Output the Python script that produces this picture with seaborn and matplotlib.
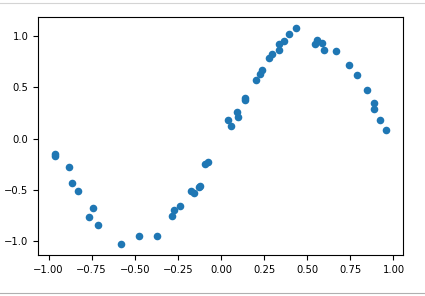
import matplotlib
matplotlib.use("Agg")
import matplotlib.pyplot as plt
from matplotlib.lines import Line2D
import seaborn as sns
import pandas as pd

x_vals = [-0.965, -0.962, -0.880, -0.863, -0.830, -0.743, -0.768, -0.716, -0.579, -0.474,
          -0.371, -0.282, -0.274, -0.236, -0.174, -0.155, -0.130, -0.120, -0.091, -0.078,
          0.040, 0.060, 0.093, 0.098, 0.137, 0.139, 0.203, 0.226, 0.237, 0.280,
          0.295, 0.334, 0.339, 0.363, 0.395, 0.434, 0.546, 0.559, 0.585, 0.598,
          0.668, 0.743, 0.787, 0.849, 0.889, 0.889, 0.924, 0.959]
y_vals = [-0.170, -0.150, -0.276, -0.431, -0.509, -0.677, -0.761, -0.839, -1.029, -0.946,
          -0.946, -0.754, -0.696, -0.657, -0.509, -0.528, -0.470, -0.460, -0.250, -0.230,
          0.178, 0.119, 0.258, 0.210, 0.398, 0.379, 0.573, 0.631, 0.670, 0.786,
          0.825, 0.922, 0.864, 0.954, 1.019, 1.078, 0.922, 0.961, 0.935, 0.864,
          0.851, 0.715, 0.621, 0.469, 0.346, 0.287, 0.184, 0.087]

df = pd.DataFrame({"x": x_vals, "y": y_vals})

fig = plt.figure(figsize=(4.25, 2.96), dpi=100)
ax = fig.add_axes([38/425, 1-255/296, (403-38)/425, (255-17)/296])
sns.scatterplot(data=df, x="x", y="y", ax=ax, color="#1f77b4", s=30, linewidth=0, alpha=1)
ax.set_xlabel("")
ax.set_ylabel("")
ax.set_xticks([-1.0, -0.75, -0.5, -0.25, 0.0, 0.25, 0.5, 0.75, 1.0])
ax.set_xticklabels(["−1.00", "−0.75", "−0.50", "−0.25", "0.00", "0.25", "0.50", "0.75", "1.00"])
ax.set_yticks([-1.0, -0.5, 0.0, 0.5, 1.0])
ax.set_yticklabels(["−1.0", "−0.5", "0.0", "0.5", "1.0"])
ax.tick_params(labelsize=7.2, length=3.5, width=0.8)
for sp in ax.spines.values():
    sp.set_linewidth(0.8)

# light screenshot border lines at top and bottom
fig.add_artist(Line2D([0, 1], [1 - 3.2/296, 1 - 3.2/296], transform=fig.transFigure,
                      color="#d4d4d4", linewidth=0.8))
fig.add_artist(Line2D([0, 1], [1 - 292.7/296, 1 - 292.7/296], transform=fig.transFigure,
                      color="#b0b0b0", linewidth=0.8))
fig.savefig("out.png", dpi=100)
